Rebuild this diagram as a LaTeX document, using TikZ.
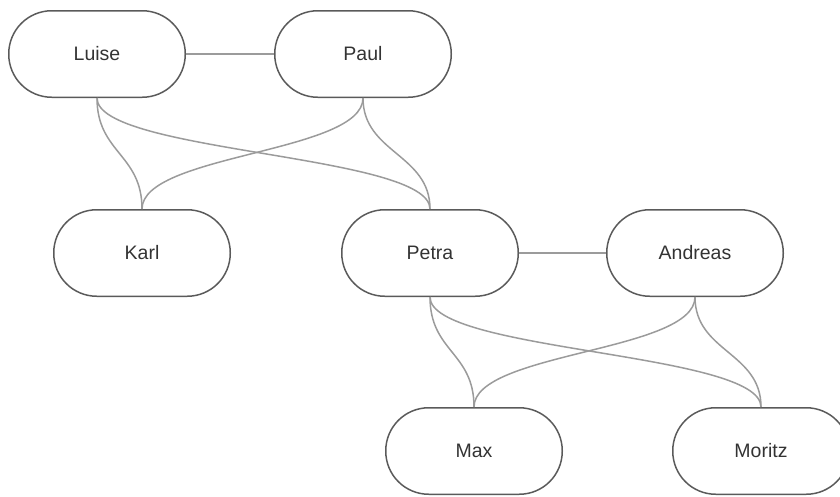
\documentclass[tikz,border=0pt]{standalone}
\usepackage{fontspec}
\setmainfont{Liberation Sans}
\definecolor{boxgray}{RGB}{90,90,90}
\definecolor{linkgray}{RGB}{155,155,155}
\definecolor{textgray}{RGB}{51,51,51}
\tikzset{person/.style={draw=boxgray, line width=1.5pt, rounded corners=43pt,
    minimum width=176.5pt, minimum height=86.5pt, text=textgray,
    font=\fontsize{19.5}{23}\selectfont},
  link/.style={draw=linkgray, line width=1.5pt}}

\begin{document}
\begin{tikzpicture}[x=1pt, y=-1pt]
\useasboundingbox (0,0) rectangle (840,496);
\node[person] (Luise) at (97,54) {Luise};
\node[person] (Paul) at (363,54) {Paul};
\node[person] (Karl) at (142,253) {Karl};
\node[person] (Petra) at (430,253) {Petra};
\node[person] (Andreas) at (695,253) {Andreas};
\node[person] (Max) at (474,451) {Max};
\node[person] (Moritz) at (761,451) {Moritz};
\draw[link] (Luise) -- (Paul);
\draw[link] (Petra) -- (Andreas);
\foreach \a/\b in {Luise/Karl, Luise/Petra, Paul/Karl, Paul/Petra,
  Petra/Max, Petra/Moritz, Andreas/Max, Andreas/Moritz}
\draw[link] (\a.south) .. controls +(0,55) and +(0,-55) .. (\b.north);
\end{tikzpicture}
\end{document}
